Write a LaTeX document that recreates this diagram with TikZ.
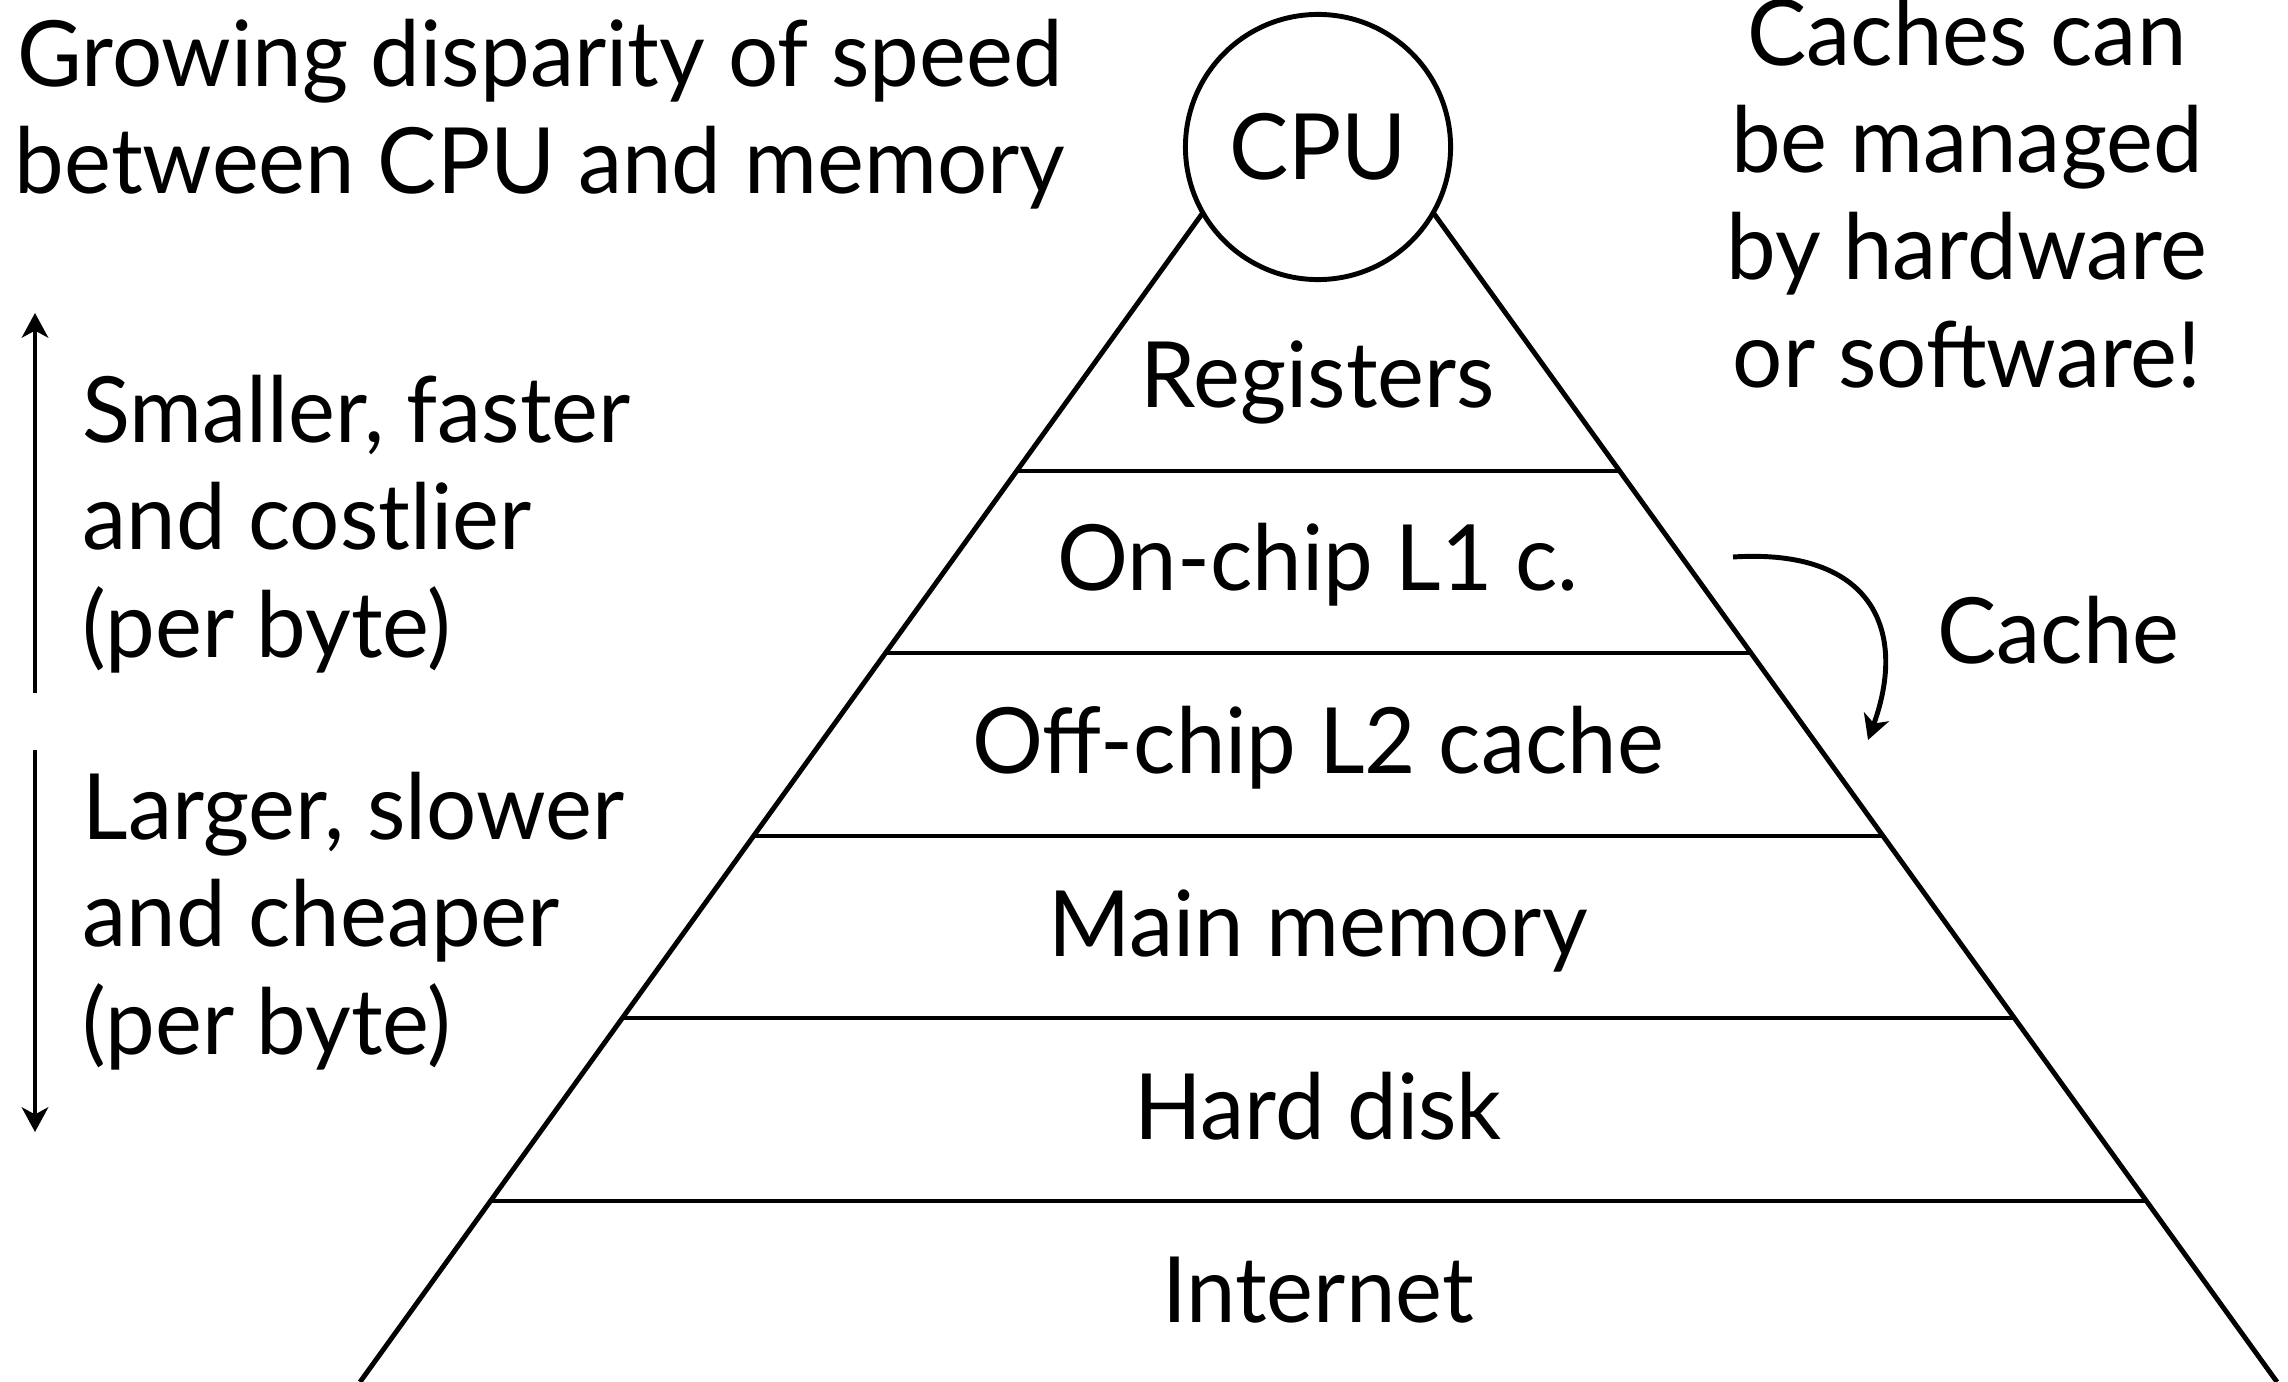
\documentclass[tikz,border=0pt]{standalone}
\usepackage{fontspec}
\setmainfont{Lato}[FakeStretch=0.97]
\usetikzlibrary{arrows.meta,positioning}

\begin{document}
\begin{tikzpicture}[x=0.01cm,y=-0.01cm,>={Stealth[length=7pt,width=7.5pt,inset=2pt]},node distance=1.83cm,line width=1.4pt]
  \tikzstyle{every node}=[font=\fontsize{26}{30.5}\selectfont,inner sep=0pt]
  \tikzstyle{layer}=[text height=0.7cm,text depth=0.16cm]
  \tikzstyle{note}=[align=center,anchor=base]
  \tikzstyle{side}=[align=left,anchor=base west]

  \useasboundingbox (0,0) rectangle (2288,1382);

  % the pyramid
  \coordinate (top) at (1318,53);
  \coordinate (bl) at (360,1382);
  \coordinate (br) at (2277,1382);
  \draw (bl) -- (top) -- (br);
  \begin{scope}
    \clip (bl) -- (top) -- (br) -- cycle;
    \foreach \y in {471,653,836,1018,1201}
      \draw (0,\y) -- (2288,\y);
  \end{scope}

  \node[circle,draw,fill=white,minimum size=2.65cm] (cpu) at (1318,147) {CPU};

  \node[layer] (reg) at (1318,380) {Registers};
  \node[layer] (lone) [below of=reg] {On-chip L1 c.};
  \node[layer] (ltwo) [below of=lone] {Off-chip L2 cache};
  \node[layer] (mem) [below of=ltwo] {Main memory};
  \node[layer] (disk) [below of=mem] {Hard disk};
  \node[layer] (net) [below of=disk] {Internet};

  % notes around it (base = last line)
  \node[note] (gap) at (540,194) {Growing disparity of speed\\between CPU and memory};
  \node[note] (managed) at (1967,387) {Caches can\\be managed\\by hardware\\or software!};
  \node[side] (small) at (80,657) {Smaller, faster\\and costlier\\(per byte)};
  \node[side] (large) at (80,1054) {Larger, slower\\and cheaper\\(per byte)};
  \node[anchor=base west] (cache) at (1935,663) {Cache};

  \coordinate (fastlow) at (35,693);
  \coordinate (fasthigh) at (35,313);
  \coordinate (slowhigh) at (35,750);
  \coordinate (slowlow) at (35,1132);
  \draw[->] (fastlow) -- (fasthigh);
  \draw[->] (slowhigh) -- (slowlow);

  \coordinate (cachefrom) at (1733,557);
  \coordinate (cacheto) at (1868,740);
  \draw[->] (cachefrom) .. controls (1872,548) and (1908,630) .. (cacheto);

\end{tikzpicture}
\end{document}
